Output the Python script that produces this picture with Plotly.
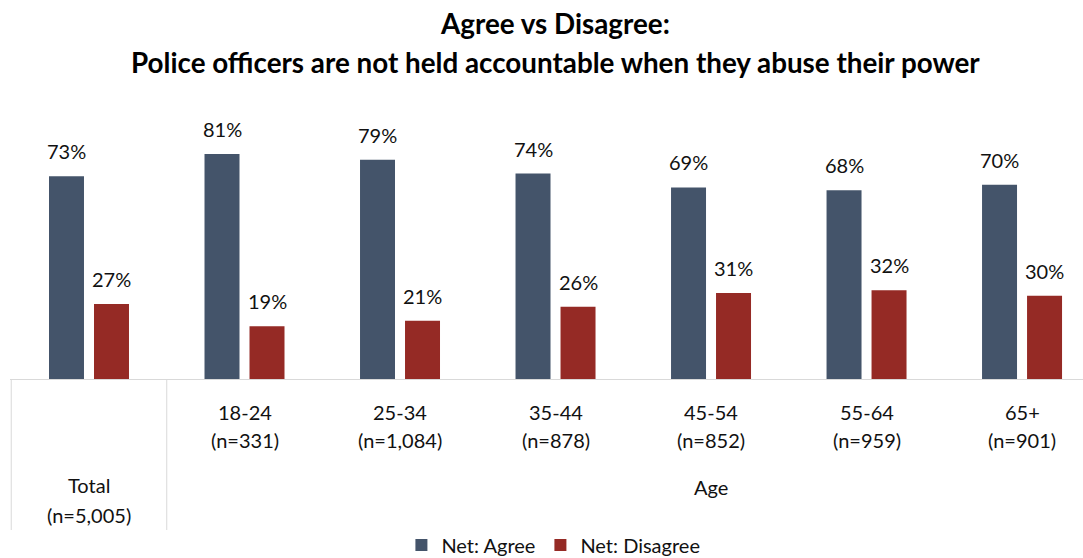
import plotly.graph_objects as go

# Survey results: share agreeing / disagreeing, overall and by age group
groups = ["Total", "18-24", "25-34", "35-44", "45-54", "55-64", "65+"]
sample_sizes = ["(n=5,005)", "(n=331)", "(n=1,084)", "(n=878)", "(n=852)", "(n=959)", "(n=901)"]
net_agree = [73, 81, 79, 74, 69, 68, 70]
net_disagree = [27, 19, 21, 26, 31, 32, 30]

title_line1 = "Agree vs Disagree:"
title_line2 = "Police officers are not held accountable when they abuse their power"
age_header = "Age"

AGREE_COLOR = "#44546A"
DISAGREE_COLOR = "#952A25"
GRID_COLOR = "#D9D9D9"
FONT = "Lato"
TEXT_COLOR = "#111111"

WIDTH, HEIGHT = 1083, 558
MARGIN = dict(l=10, r=0, t=143, b=179)
PLOT_W = WIDTH - MARGIN["l"] - MARGIN["r"]
PLOT_H = HEIGHT - MARGIN["t"] - MARGIN["b"]
AXIS_Y = HEIGHT - MARGIN["b"]  # pixel row of the category axis

BAR_W = 0.225
HALF_SPACING = 0.1447  # distance from group centre to each bar centre

x_idx = list(range(len(groups)))

fig = go.Figure()
series = [
    ("Net: Agree", net_agree, AGREE_COLOR, -HALF_SPACING),
    ("Net: Disagree", net_disagree, DISAGREE_COLOR, HALF_SPACING),
]
for name, vals, color, shift in series:
    fig.add_trace(go.Bar(
        x=x_idx, y=vals, name=name,
        width=BAR_W, offset=shift - BAR_W / 2,
        marker=dict(color=color, line=dict(width=0)),
        hoverinfo="skip",
    ))

annotations = []
# value labels above each bar
for name, vals, color, shift in series:
    for i, v in zip(x_idx, vals):
        annotations.append(dict(
            x=i + shift, y=v, xref="x", yref="y", text=f"{v}%",
            showarrow=False, yanchor="middle", yshift=25,
            font=dict(family=FONT, size=20, color=TEXT_COLOR),
        ))

# category labels under the axis
for i, (g, n) in enumerate(zip(groups, sample_sizes)):
    shifts = (-106, -136) if i == 0 else (-32.5, -61)
    for txt, ys in zip((g, n), shifts):
        annotations.append(dict(
            x=i, y=0, xref="x", yref="paper", text=txt, showarrow=False,
            yanchor="middle", yshift=ys,
            font=dict(family=FONT, size=20, color=TEXT_COLOR),
        ))

# outer grouping label spanning the age categories
annotations.append(dict(
    x=(x_idx[1] + x_idx[-1]) / 2 + 0.5, y=0, xref="x", yref="paper",
    text=age_header, showarrow=False, yanchor="middle", yshift=-107.5,
    font=dict(family=FONT, size=20, color=TEXT_COLOR),
))

# two-line bold title
for txt, ypx in ((title_line1, 23.5), (title_line2, 62)):
    annotations.append(dict(
        x=(555 - MARGIN["l"]) / PLOT_W, y=(AXIS_Y - ypx) / PLOT_H,
        xref="paper", yref="paper",
        text=f"<b>{txt}</b>", showarrow=False, xanchor="center", yanchor="middle",
        font=dict(family=FONT, size=27.8, color="#000000"),
    ))

sep_bottom = -(530 - AXIS_Y) / PLOT_H
shapes = [
    dict(type="line", xref="x", yref="paper", x0=b, x1=b, y0=0, y1=sep_bottom,
         line=dict(color=GRID_COLOR, width=1))
    for b in (-0.5, 0.5)
]

fig.update_layout(
    width=WIDTH, height=HEIGHT,
    margin=MARGIN,
    paper_bgcolor="white", plot_bgcolor="white",
    barmode="overlay",
    showlegend=True,
    legend=dict(
        orientation="h", xref="container", yref="container",
        x=0.511, xanchor="center", y=13 / HEIGHT, yanchor="middle",
        font=dict(family=FONT, size=20, color=TEXT_COLOR),
        itemclick=False, itemdoubleclick=False,
    ),
    xaxis=dict(
        range=[-0.508, 6.392], showgrid=False, zeroline=False,
        showticklabels=False, ticks="", showline=True,
        linecolor=GRID_COLOR, linewidth=1, fixedrange=True,
    ),
    yaxis=dict(range=[0, 85], visible=False, fixedrange=True),
    annotations=annotations,
    shapes=shapes,
    font=dict(family=FONT, color=TEXT_COLOR),
)

fig.write_html("out.html")
